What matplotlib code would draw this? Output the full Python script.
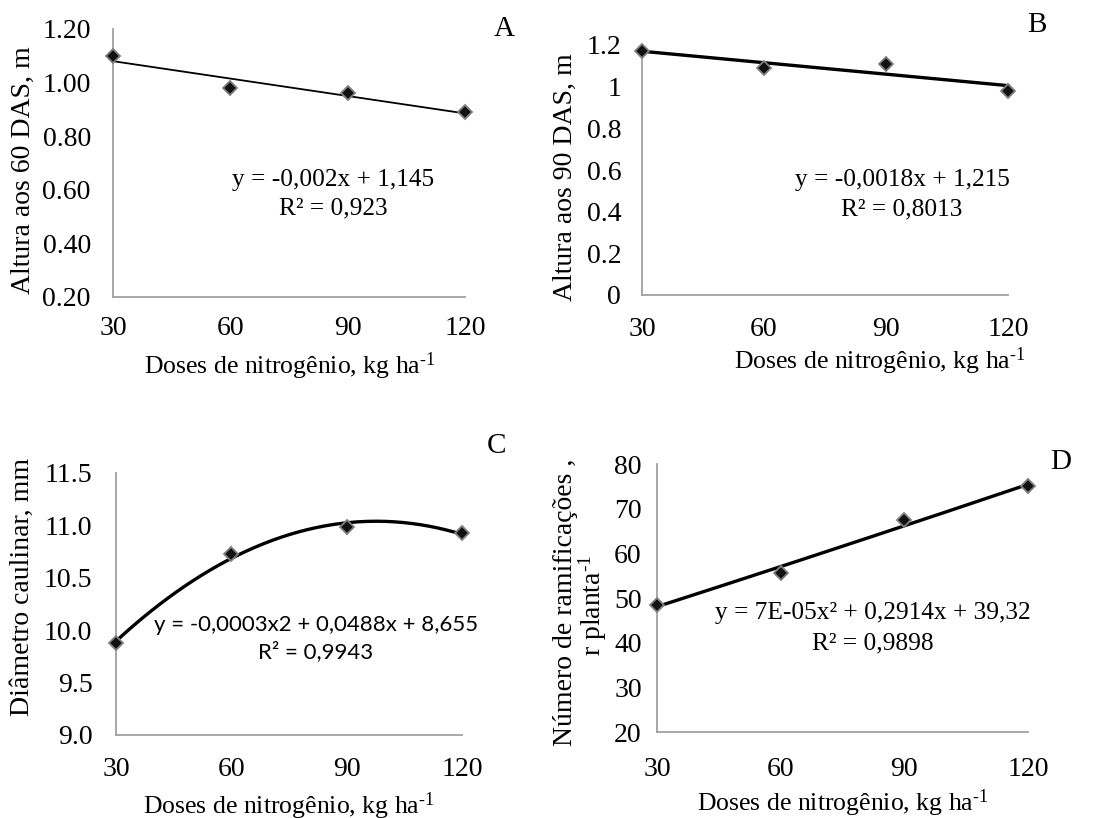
import matplotlib
matplotlib.use('Agg')
import matplotlib.pyplot as plt
import numpy as np

plt.rcParams['font.family'] = ['Liberation Serif', 'DejaVu Serif']
plt.rcParams['mathtext.fontset'] = 'custom'
plt.rcParams['mathtext.rm'] = 'Liberation Serif'
plt.rcParams['mathtext.it'] = 'Liberation Serif:italic'

# Doses de nitrogênio (kg/ha)
doses = [30, 60, 90, 120]

# A - altura aos 60 DAS
altura_60 = [1.10, 0.98, 0.96, 0.89]
# B - altura aos 90 DAS
altura_90 = [1.17, 1.09, 1.11, 0.98]
# C - diâmetro caulinar
diametro = [9.88, 10.73, 10.98, 10.93]
# D - número de ramificações
ramificacoes = [48.5, 55.7, 67.5, 75.0]

ticks_a = [0.20, 0.40, 0.60, 0.80, 1.00, 1.20]
ticks_b = [0, 0.2, 0.4, 0.6, 0.8, 1, 1.2]
ticks_c = [9.0, 9.5, 10.0, 10.5, 11.0, 11.5]
ticks_d = [20, 30, 40, 50, 60, 70, 80]

W, H = 1099, 818
FS = 20
EQ = 18.3
xlab = r'Doses de nitrogênio, kg ha$^{\text{-1}}$'

fig = plt.figure(figsize=(W / 100, H / 100), dpi=100)


def px_axes(x0, y0, x1, y1):
    # rectangle given by pixel corners (top-left origin)
    return fig.add_axes([x0 / W, 1 - y1 / H, (x1 - x0) / W, (y1 - y0) / H])


def ftext(x, y, s, **kw):
    kw.setdefault('fontsize', FS)
    kw.setdefault('ha', 'center')
    kw.setdefault('va', 'center')
    return fig.text(x / W, 1 - y / H, s, **kw)


def painel(ax, y, grau, ticks, fmt, lw, xpad, ypad):
    coef = np.polyfit(doses, y, grau)
    xs = np.linspace(30, 120, 200)
    ax.plot(xs, np.polyval(coef, xs), color='black', lw=lw, zorder=3,
            clip_on=False)
    ax.plot(doses, y, linestyle='none', marker='D', markersize=7,
            markerfacecolor='#111111', markeredgecolor='#7f7f7f',
            markeredgewidth=1.3, zorder=4, clip_on=False)
    ax.set_xlim(30, 120)
    ax.set_ylim(ticks[0], ticks[-1])
    ax.set_xticks(doses)
    ax.set_yticks(ticks)
    ax.set_yticklabels([fmt(t) for t in ticks])
    for s in ['top', 'right']:
        ax.spines[s].set_visible(False)
    for s in ['left', 'bottom']:
        ax.spines[s].set_color('#a0a0a0')
        ax.spines[s].set_linewidth(1.3)
    ax.tick_params(length=0, labelsize=FS)
    ax.tick_params(axis='x', pad=xpad)
    ax.tick_params(axis='y', pad=ypad)
    ax.patch.set_alpha(0)


# A
ax_a = px_axes(113, 29, 465, 297)
painel(ax_a, altura_60, 1, ticks_a, lambda t: f'{t:.2f}', 1.3, 14, 16)
ftext(23, 170, 'Altura aos 60 DAS, m', rotation=90)
ftext(290, 366, xlab, fontsize=18.5)
ftext(504, 29, 'A', fontsize=21)
ftext(333, 180, 'y = -0,002x + 1,145', fontsize=EQ)
ftext(333, 208, 'R² = 0,923', fontsize=EQ)

# B
ax_b = px_axes(642, 45, 1008, 295)
painel(ax_b, altura_90, 1, ticks_b, lambda t: f'{t:g}', 2.4, 16, 15)
ftext(565, 177, 'Altura aos 90 DAS, m', rotation=90)
ftext(880, 361, xlab, fontsize=18.5)
ftext(1037, 25, 'B', fontsize=21)
ftext(902, 180, 'y = -0,0018x + 1,215', fontsize=EQ)
ftext(902, 209, 'R² = 0,8013', fontsize=EQ)

# C
ax_c = px_axes(116, 473, 462, 735)
painel(ax_c, diametro, 2, ticks_c, lambda t: f'{t:.1f}', 2.4, 16, 17)
ftext(22, 587, 'Diâmetro caulinar, mm', rotation=90)
ftext(289, 806, xlab, fontsize=18.5)
ftext(497, 446, 'C', fontsize=21)
ftext(316, 625, 'y = -0,0003x2 + 0,0488x + 8,655',
      family=['Lato', 'DejaVu Sans'], fontsize=16)
ftext(316, 652, 'R² = 0,9943', family=['Lato', 'DejaVu Sans'], fontsize=16)

# D
ax_d = px_axes(657, 464, 1028, 732)
painel(ax_d, ramificacoes, 2, ticks_d, lambda t: f'{t:d}', 2.4, 18, 11)
ftext(565, 602, 'Número de ramificações ,', rotation=90)
ftext(593, 605, r'r planta$^{\text{-1}}$', rotation=90)
ftext(843, 803, xlab, fontsize=18.5)
ftext(1061, 462, 'D', fontsize=21)
ftext(873, 613, 'y = 7E-05x² + 0,2914x + 39,32', fontsize=EQ)
ftext(873, 643, 'R² = 0,9898', fontsize=EQ)

fig.savefig('out.png', dpi=100)
